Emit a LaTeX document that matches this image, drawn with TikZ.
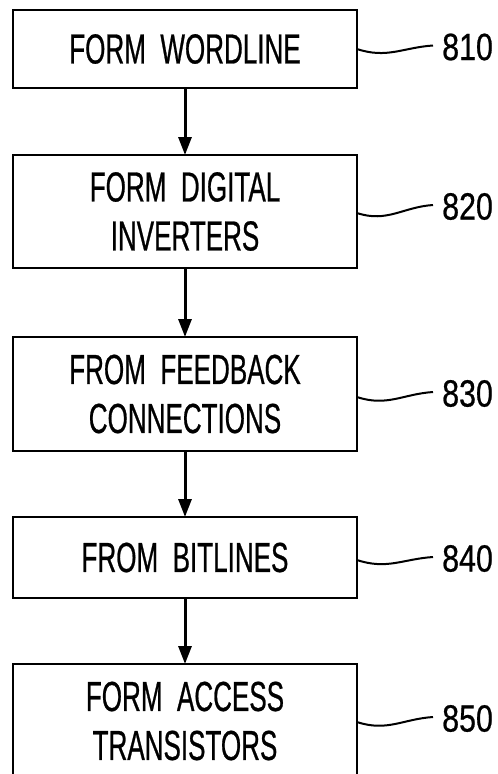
\documentclass[tikz,border=0pt]{standalone}
\usepackage{fontspec}
\usetikzlibrary{arrows.meta}
\newfontfamily\boxfont[FakeStretch=0.62,WordSpace=2,FakeBold=0.6]{Liberation Sans}
\newfontfamily\numfont[FakeStretch=0.8,FakeBold=0.6]{Liberation Sans}
\begin{document}
\begin{tikzpicture}[x=1pt,y=-1pt,
  stepbox/.style={draw, line width=2.5pt, minimum width=344pt, inner sep=0pt, outer sep=0pt,
    align=center, font=\boxfont\fontsize{42}{49}\selectfont},
  flow/.style={line width=3pt, -{Triangle[width=13pt,length=18pt]}},
  leader/.style={line width=2pt},
  reflabel/.style={anchor=west, inner sep=0pt, font=\numfont\fontsize{38}{38}\selectfont}]
\fill[white] (0,0) rectangle (498,774);
\useasboundingbox (0,0) rectangle (498,774);

\node[stepbox, minimum height=78pt]  (b1) at (185,49)    {FORM WORDLINE};
\node[stepbox, minimum height=113pt] (b2) at (185,211.5) {FORM DIGITAL\\INVERTERS};
\node[stepbox, minimum height=114pt] (b3) at (185,394)   {FROM FEEDBACK\\CONNECTIONS};
\node[stepbox, minimum height=81pt]  (b4) at (185,557.5) {FROM BITLINES};
\node[stepbox, minimum height=114pt] (b5) at (185,721)   {FORM ACCESS\\TRANSISTORS};

\draw[flow] (b1) -- (b2);
\draw[flow] (b2) -- (b3);
\draw[flow] (b3) -- (b4);
\draw[flow] (b4) -- (b5);

\node[reflabel] (l1) at (442,47)    {810};
\node[reflabel] (l2) at (442,206.5) {820};
\node[reflabel] (l3) at (442,393.5) {830};
\node[reflabel] (l4) at (442,558.5) {840};
\node[reflabel] (l5) at (442,718.5) {850};

\draw[leader] ([yshift=0pt]b1.east)    .. controls +(30,10) and +(-30,2) .. ([xshift=-9pt,yshift=1.5pt]l1.west);
\draw[leader] ([yshift=-1.5pt]b2.east) .. controls +(30,10) and +(-30,2) .. ([xshift=-9pt,yshift=1.5pt]l2.west);
\draw[leader] ([yshift=-3pt]b3.east)   .. controls +(30,10) and +(-30,2) .. ([xshift=-9pt,yshift=1.5pt]l3.west);
\draw[leader] ([yshift=-2.5pt]b4.east) .. controls +(30,10) and +(-30,2) .. ([xshift=-9pt,yshift=1.5pt]l4.west);
\draw[leader] ([yshift=-1pt]b5.east)   .. controls +(30,10) and +(-30,2) .. ([xshift=-9pt,yshift=1.5pt]l5.west);
\end{tikzpicture}
\end{document}
